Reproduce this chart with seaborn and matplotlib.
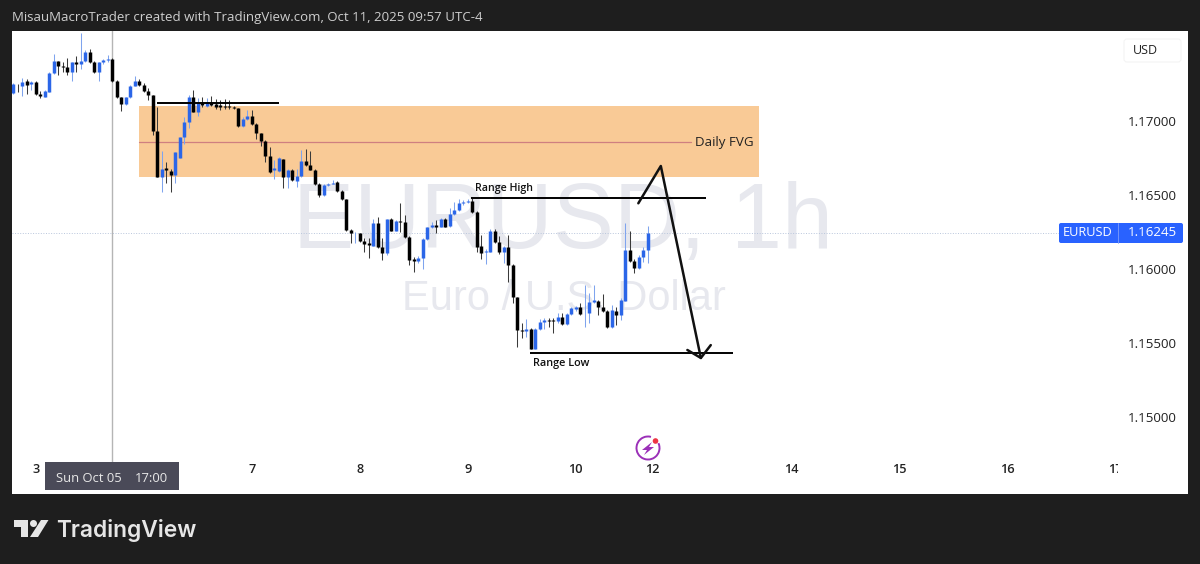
import pandas as pd
import seaborn as sns
import matplotlib
matplotlib.use('Agg')
import matplotlib.pyplot as plt
from matplotlib.patches import Rectangle, FancyBboxPatch, Circle, Arc, Polygon

# candles, 1h EURUSD
opens = [
    1.17187, 1.17243, 1.17239, 1.17268, 1.17248, 1.17263, 1.17182, 1.17164, 1.17198, 1.17322,
    1.17403, 1.17372, 1.17363, 1.17333, 1.17396, 1.17383, 1.17408, 1.17464, 1.17396, 1.17333,
    1.17396, 1.17410, 1.17419, 1.17272, 1.17160, 1.17115, 1.17160, 1.17239, 1.17272, 1.17243,
    1.17200, 1.17173, 1.16935, 1.16624, 1.16680, 1.16664, 1.16633, 1.16752, 1.16890, 1.16995,
    1.17164, 1.17063, 1.17124, 1.17101, 1.17119, 1.17113, 1.17106, 1.17104, 1.17101, 1.17097,
    1.17086, 1.16966, 1.17014, 1.17032, 1.16982, 1.16917, 1.16867, 1.16764, 1.16669, 1.16662,
    1.16741, 1.16624, 1.16669, 1.16597, 1.16631, 1.16730, 1.16700, 1.16671, 1.16577, 1.16498,
    1.16570, 1.16577, 1.16590, 1.16527, 1.16471, 1.16264, 1.16241, 1.16241, 1.16192, 1.16174,
    1.16158, 1.16313, 1.16146, 1.16110, 1.16338, 1.16259, 1.16327, 1.16320, 1.16219, 1.16065,
    1.16056, 1.16072, 1.16201, 1.16282, 1.16297, 1.16286, 1.16338, 1.16291, 1.16369, 1.16399,
    1.16444, 1.16453, 1.16462, 1.16385, 1.16155, 1.16113, 1.16117, 1.16255, 1.16183, 1.16117,
    1.16151, 1.16027, 1.15809, 1.15588, 1.15579, 1.15597, 1.15462, 1.15592, 1.15644, 1.15656,
    1.15656, 1.15651, 1.15678, 1.15629, 1.15696, 1.15728, 1.15741, 1.15701, 1.15701, 1.15779,
    1.15786, 1.15746, 1.15716, 1.15606, 1.15719, 1.15687, 1.15786, 1.16128, 1.16056, 1.16005,
    1.16083, 1.16128,
]
highs = [
    1.17254, 1.17248, 1.17288, 1.17281, 1.17268, 1.17268, 1.17205, 1.17209, 1.17333, 1.17450,
    1.17408, 1.17401, 1.17428, 1.17401, 1.17439, 1.17592, 1.17480, 1.17484, 1.17408, 1.17401,
    1.17417, 1.17446, 1.17423, 1.17277, 1.17164, 1.17164, 1.17243, 1.17304, 1.17281, 1.17254,
    1.17221, 1.17178, 1.17097, 1.16797, 1.16725, 1.16673, 1.16793, 1.16894, 1.17029, 1.17176,
    1.17209, 1.17153, 1.17160, 1.17153, 1.17169, 1.17146, 1.17142, 1.17146, 1.17142, 1.17101,
    1.17090, 1.17029, 1.17074, 1.17074, 1.16989, 1.16921, 1.16872, 1.16827, 1.16737, 1.16755,
    1.16746, 1.16673, 1.16673, 1.16673, 1.16804, 1.16809, 1.16797, 1.16676, 1.16581, 1.16572,
    1.16583, 1.16601, 1.16595, 1.16532, 1.16475, 1.16268, 1.16250, 1.16246, 1.16207, 1.16207,
    1.16336, 1.16354, 1.16207, 1.16340, 1.16342, 1.16331, 1.16448, 1.16365, 1.16223, 1.16079,
    1.16088, 1.16212, 1.16286, 1.16320, 1.16331, 1.16342, 1.16342, 1.16410, 1.16455, 1.16471,
    1.16466, 1.16471, 1.16478, 1.16390, 1.16230, 1.16133, 1.16268, 1.16268, 1.16223, 1.16155,
    1.16230, 1.16032, 1.15813, 1.15633, 1.15660, 1.15602, 1.15602, 1.15660, 1.15667, 1.15667,
    1.15667, 1.15705, 1.15705, 1.15701, 1.15741, 1.15750, 1.15773, 1.15892, 1.15836, 1.15892,
    1.15791, 1.15831, 1.15721, 1.15757, 1.15746, 1.15802, 1.16309, 1.16259, 1.16065, 1.16095,
    1.16151, 1.16291,
]
lows = [
    1.17182, 1.17198, 1.17169, 1.17182, 1.17209, 1.17178, 1.17153, 1.17160, 1.17196, 1.17318,
    1.17311, 1.17333, 1.17311, 1.17272, 1.17333, 1.17349, 1.17401, 1.17390, 1.17322, 1.17272,
    1.17385, 1.17401, 1.17266, 1.17155, 1.17070, 1.17110, 1.17155, 1.17234, 1.17239, 1.17196,
    1.17142, 1.16905, 1.16622, 1.16523, 1.16579, 1.16523, 1.16579, 1.16748, 1.16845, 1.16950,
    1.17059, 1.17034, 1.17092, 1.17097, 1.17101, 1.17083, 1.17074, 1.17083, 1.17083, 1.17079,
    1.16962, 1.16962, 1.17007, 1.16973, 1.16876, 1.16831, 1.16725, 1.16651, 1.16606, 1.16658,
    1.16545, 1.16545, 1.16595, 1.16556, 1.16624, 1.16696, 1.16667, 1.16570, 1.16484, 1.16493,
    1.16563, 1.16574, 1.16523, 1.16466, 1.16259, 1.16174, 1.16178, 1.16185, 1.16117, 1.16072,
    1.16153, 1.16142, 1.16061, 1.16095, 1.16255, 1.16255, 1.16252, 1.16207, 1.16027, 1.15982,
    1.16043, 1.15998, 1.16196, 1.16277, 1.16246, 1.16282, 1.16282, 1.16286, 1.16365, 1.16394,
    1.16435, 1.16444, 1.16381, 1.16117, 1.16065, 1.16034, 1.16113, 1.16178, 1.16101, 1.16043,
    1.15915, 1.15773, 1.15475, 1.15532, 1.15543, 1.15457, 1.15457, 1.15588, 1.15592, 1.15611,
    1.15570, 1.15638, 1.15624, 1.15624, 1.15689, 1.15719, 1.15692, 1.15611, 1.15638, 1.15768,
    1.15689, 1.15710, 1.15602, 1.15602, 1.15622, 1.15656, 1.15782, 1.16050, 1.15971, 1.16000,
    1.16050, 1.16038,
]
closes = [
    1.17248, 1.17241, 1.17266, 1.17243, 1.17263, 1.17182, 1.17169, 1.17203, 1.17322, 1.17405,
    1.17372, 1.17363, 1.17333, 1.17396, 1.17383, 1.17408, 1.17464, 1.17396, 1.17333, 1.17396,
    1.17410, 1.17419, 1.17270, 1.17160, 1.17115, 1.17160, 1.17239, 1.17272, 1.17243, 1.17200,
    1.17173, 1.16935, 1.16624, 1.16676, 1.16669, 1.16633, 1.16788, 1.16890, 1.16995, 1.17164,
    1.17063, 1.17119, 1.17106, 1.17126, 1.17108, 1.17097, 1.17092, 1.17092, 1.17092, 1.17086,
    1.16966, 1.17014, 1.17034, 1.16977, 1.16917, 1.16865, 1.16764, 1.16655, 1.16680, 1.16748,
    1.16624, 1.16669, 1.16601, 1.16631, 1.16730, 1.16700, 1.16671, 1.16574, 1.16498, 1.16568,
    1.16577, 1.16581, 1.16527, 1.16471, 1.16264, 1.16241, 1.16246, 1.16192, 1.16169, 1.16162,
    1.16313, 1.16146, 1.16110, 1.16336, 1.16259, 1.16327, 1.16320, 1.16219, 1.16061, 1.16052,
    1.16072, 1.16203, 1.16282, 1.16297, 1.16286, 1.16338, 1.16286, 1.16372, 1.16399, 1.16444,
    1.16453, 1.16462, 1.16385, 1.16151, 1.16106, 1.16124, 1.16259, 1.16183, 1.16117, 1.16151,
    1.16027, 1.15809, 1.15588, 1.15579, 1.15592, 1.15462, 1.15597, 1.15644, 1.15656, 1.15647,
    1.15647, 1.15674, 1.15629, 1.15696, 1.15734, 1.15741, 1.15696, 1.15705, 1.15779, 1.15791,
    1.15746, 1.15716, 1.15606, 1.15723, 1.15692, 1.15791, 1.16128, 1.16056, 1.16005, 1.16083,
    1.16128, 1.16245,
]

# axis ticks
price_ticks = [1.15, 1.155, 1.16, 1.165, 1.17]
date_bars = [5, 53, 77, 101, 125, 142, 173, 197, 221, 245]
date_labels = ['3', '7', '8', '9', '10', '12', '14', '15', '16', '17']
last_price = 1.16245
crosshair_bar = 22

# drawings on the chart
fvg_bars = [27.9, 165.7]
fvg_prices = [1.16622, 1.17101]
fvg_mid = 1.16858
fvg_mid_end = 150.6
top_line_bars = [31.9, 59.0]
top_line_price = 1.17124
range_high_bars = [101.7, 153.9]
range_high = 1.16478
range_low_bars = [114.8, 159.9]
range_low = 1.15430
path_bars = [138.9, 143.9, 152.8]
path_prices = [1.16444, 1.16696, 1.15399]
head_bars = [149.8, 152.8, 155.0]
head_prices = [1.15453, 1.15399, 1.15486]

BLUE = '#2b66e8'
DARK = '#1e1e1e'

sns.set_theme(style='white')
plt.rcParams['font.family'] = ['Open Sans', 'DejaVu Sans']

W, H = 1200, 564
fig = plt.figure(figsize=(W / 100, H / 100), dpi=100, facecolor=DARK)

# white panel behind the price scale
fig.patches.append(Rectangle((12 / W, 1 - 494 / H), 1176 / W, 463 / H, transform=fig.transFigure,
                             facecolor='white', edgecolor='none', zorder=0))

ax = fig.add_axes([12 / W, 1 - 494 / H, 1106 / W, 463 / H], zorder=1)
ax.set_facecolor('white')

# watermark
ax.text(0.4986, 0.584, 'EURUSD, 1h', transform=ax.transAxes, ha='center', va='center',
        fontsize=66, color='#e7e8ee', zorder=1, family='Liberation Sans')
ax.text(0.4986, 0.4205, 'Euro / U.S. Dollar', transform=ax.transAxes, ha='center', va='center',
        fontsize=30, color='#e7e8ee', zorder=1, family='Liberation Sans')

# FVG box
ax.add_patch(Rectangle((fvg_bars[0], fvg_prices[0]), fvg_bars[1] - fvg_bars[0], fvg_prices[1] - fvg_prices[0],
                       facecolor='#f9ca96', edgecolor='none', zorder=1.5))
ax.plot([fvg_bars[0], fvg_mid_end], [fvg_mid, fvg_mid], color='#cf7f80', lw=0.9, zorder=1.6)

# candles: one short line per bar
df = pd.DataFrame({'open': opens, 'high': highs, 'low': lows, 'close': closes})
df['bar'] = range(len(df))
df['side'] = ['up' if c >= o else 'down' for o, c in zip(df['open'], df['close'])]
df['top'] = df[['open', 'close']].max(axis=1)
df['bottom'] = df[['open', 'close']].min(axis=1)

wicks = df.melt(id_vars=['bar', 'side'], value_vars=['high', 'low'], value_name='price')
bodies = df.melt(id_vars=['bar', 'side'], value_vars=['top', 'bottom'], value_name='price')

sns.lineplot(data=wicks, x='bar', y='price', units='bar', hue='side', estimator=None, sort=False,
             palette={'up': '#7fa4ee', 'down': '#3a3a3a'}, lw=0.75, legend=False, ax=ax, zorder=3,
             solid_capstyle='butt')
sns.lineplot(data=bodies, x='bar', y='price', units='bar', hue='side', estimator=None, sort=False,
             palette={'up': BLUE, 'down': 'black'}, lw=2.5, legend=False, ax=ax, zorder=4,
             solid_capstyle='butt')

# last price line and crosshair
ax.axhline(last_price, color='#b9c6dc', lw=0.7, ls=':', zorder=2)
ax.plot([crosshair_bar, crosshair_bar], [1.14696, 1.1765], color='#b5b5b5', lw=1.0, zorder=2)

# hand drawn levels
for bars, price in [(top_line_bars, top_line_price), (range_high_bars, range_high), (range_low_bars, range_low)]:
    ax.plot(bars, [price, price], color='black', lw=1.4, zorder=5, solid_capstyle='butt')
ax.plot(path_bars, path_prices, color='#111111', lw=1.8, zorder=5)
ax.plot(head_bars, head_prices, color='#111111', lw=1.8, zorder=5)

ax.text(fvg_mid_end + 1, fvg_mid, 'Daily FVG', fontsize=9.6, color='#222222', va='center', zorder=6)
ax.text(102.6, 1.16478 + 0.00068, 'Range High', fontsize=7.7, weight='semibold', color='#111111',
        va='center', zorder=6)
ax.text(115.6, range_low - 0.00068, 'Range Low', fontsize=7.8, weight='semibold', color='#111111',
        va='center', zorder=6)

# axes
ax.set_xlim(-0.29, 245.5)
ax.set_ylim(1.1448, 1.17608)
ax.set_xlabel('')
ax.set_ylabel('')
sns.despine(ax=ax, left=True, bottom=True, right=True, top=True)

ax.yaxis.tick_right()
ax.set_yticks(price_ticks)
ax.set_yticklabels(['%.5f' % p for p in price_ticks])
ax.tick_params(axis='y', length=0, pad=7.2, labelsize=9.6, labelcolor='#222222')

ax.set_xticks(date_bars)
ax.set_xticklabels(date_labels)
ax.tick_params(axis='x', length=0, pad=-22, labelsize=9.2, labelcolor='#222222')
for lab in ax.get_xticklabels():
    lab.set_fontweight('semibold')
    lab.set_clip_on(True)
    lab.set_clip_box(ax.bbox)

# screen furniture in pixel coordinates
over = fig.add_axes([0, 0, 1, 1], zorder=2)
over.set_xlim(0, W)
over.set_ylim(H, 0)
over.axis('off')
over.patch.set_alpha(0)

over.text(12, 18, 'MisauMacroTrader created with TradingView.com, Oct 11, 2025 09:57 UTC-4',
          fontsize=9.53, color='#cfcfcf', va='center')

over.add_patch(FancyBboxPatch((1124, 39), 57, 23, boxstyle='round,pad=0,rounding_size=3',
                              facecolor='white', edgecolor='#f4f4f4', lw=0.8))
over.text(1145, 50, 'USD', fontsize=9, color='#222222', ha='center', va='center')

# last price tag
over.add_patch(FancyBboxPatch((1059, 223), 124, 20, boxstyle='round,pad=0,rounding_size=2',
                              facecolor='#2962ff', edgecolor='none'))
over.plot([1117.5, 1117.5], [223, 243], color='#7e9dfb', lw=0.6)
over.text(1088, 233, 'EURUSD', fontsize=9.2, color='white', ha='center', va='center')
over.text(1152, 233, '%.5f' % last_price, fontsize=9.6, color='white', ha='center', va='center')

# crosshair date label
over.add_patch(Rectangle((45, 462), 134, 28, facecolor='#4a4a58', edgecolor='none'))
over.text(56, 479, 'Sun Oct 05', fontsize=9.4, color='#e8e8e8', va='center')
over.text(135, 479, '17:00', fontsize=9.4, color='#e8e8e8', va='center')

# bolt badge
over.add_patch(Arc((648, 448), 23, 23, theta1=-25, theta2=285, edgecolor='#9b30b8', lw=1.4))
over.add_patch(Polygon([(652, 442), (642, 450), (647, 450), (644, 455), (654, 447), (649, 447)],
                       closed=True, facecolor='#9b30b8', edgecolor='none'))
over.add_patch(Circle((655.5, 441), 2.8, facecolor='#ee3344', edgecolor='none'))

# logo
LOGO = '#e6e6e6'
over.add_patch(Polygon([(14, 520), (28, 520), (28, 537), (21, 537), (21, 527), (14, 527)],
                       closed=True, facecolor=LOGO, edgecolor='none'))
over.add_patch(Circle((33.5, 523.5), 3.5, facecolor=LOGO, edgecolor='none'))
over.add_patch(Polygon([(41, 520), (48.5, 520), (38, 537), (30, 537)], closed=True, facecolor=LOGO, edgecolor='none'))
over.text(56, 530, 'TradingView', fontsize=16.4, weight='semibold', color=LOGO, va='center', family='Inter')

fig.savefig('out.png', dpi=100, facecolor=DARK)
